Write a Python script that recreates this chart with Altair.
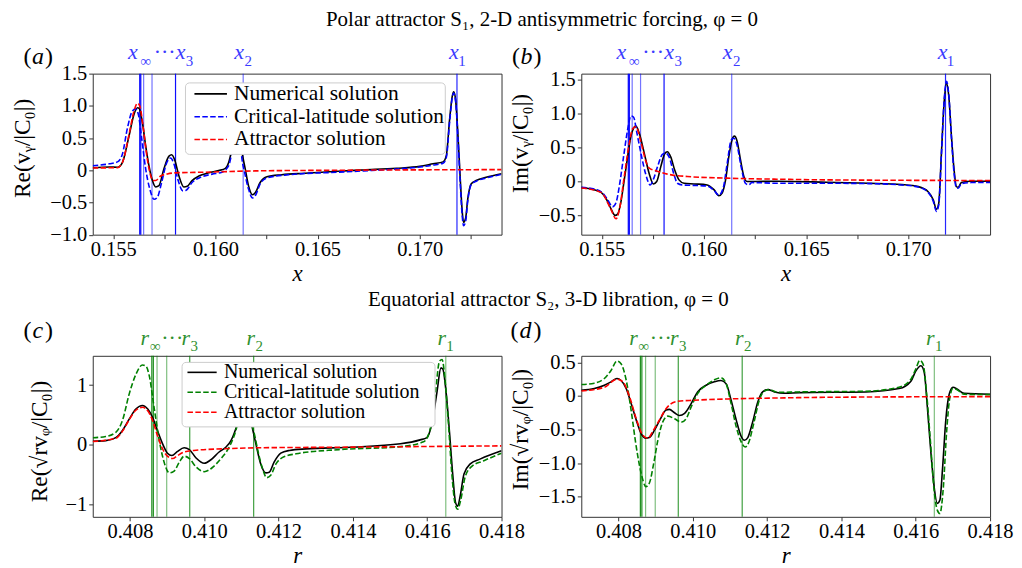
import altair as alt
import pandas as pd

FONT = "Liberation Serif"
SERIES = ["Numerical solution", "Critical-latitude solution", "Attractor solution"]

# ---------------- panel (a): Re(v_y/|C0|) versus x ----------------
A_NUM_X = [0.15400, 0.15481, 0.15521, 0.15545, 0.15578, 0.15602, 0.15619, 0.15627, 0.15643, 0.15659,
           0.15675, 0.15692, 0.15708, 0.15724, 0.15748, 0.15773, 0.15786, 0.15802, 0.15821, 0.15846,
           0.15862, 0.15886, 0.15919, 0.15968, 0.16016, 0.16049, 0.16065, 0.16081, 0.16094, 0.16107,
           0.16120, 0.16133, 0.16146, 0.16162, 0.16182, 0.16195, 0.16219, 0.16252, 0.16325, 0.16438,
           0.16601, 0.16724, 0.16886, 0.17000, 0.17065, 0.17114, 0.17130, 0.17146, 0.17159, 0.17166,
           0.17175, 0.17187, 0.17198, 0.17208, 0.17214, 0.17224, 0.17235, 0.17252, 0.17276, 0.17325,
           0.17400]
A_NUM_Y = [0.04, 0.05, 0.046, 0.12, 0.54, 0.87, 0.97, 0.96, 0.74, 0.38,
           0.07, -0.16, -0.26, -0.24, 0.02, 0.22, 0.24, 0.15, -0.08, -0.26,
           -0.25, -0.16, -0.09, -0.04, -0.005, 0.03, 0.12, 0.33, 0.55, 0.62,
           0.50, 0.23, 0.02, -0.24, -0.38, -0.35, -0.19, -0.10, -0.07, -0.046,
           -0.015, 0.005, 0.03, 0.06, 0.10, 0.13, 0.23, 0.79, 1.15, 1.22,
           1.10, 0.54, -0.13, -0.65, -0.81, -0.75, -0.44, -0.21, -0.16, -0.11,
           -0.055]
A_CRIT_X = [0.15400, 0.15481, 0.15521, 0.15545, 0.15570, 0.15594, 0.15610, 0.15623, 0.15640, 0.15659,
            0.15679, 0.15700, 0.15716, 0.15737, 0.15760, 0.15781, 0.15797, 0.15818, 0.15841, 0.15857,
            0.15886, 0.15927, 0.15984, 0.16032, 0.16065, 0.16081, 0.16098, 0.16110, 0.16122, 0.16130,
            0.16143, 0.16162, 0.16182, 0.16198, 0.16219, 0.16252, 0.16357, 0.16601, 0.16724, 0.16886,
            0.17000, 0.17065, 0.17114, 0.17130, 0.17146, 0.17159, 0.17166, 0.17175, 0.17187, 0.17198,
            0.17208, 0.17214, 0.17224, 0.17235, 0.17252, 0.17276, 0.17325, 0.17400]
A_CRIT_Y = [0.07, 0.10, 0.13, 0.25, 0.66, 0.92, 0.95, 0.87, 0.48, 0.02,
            -0.29, -0.45, -0.42, -0.19, 0.10, 0.19, 0.10, -0.16, -0.32, -0.31,
            -0.19, -0.11, -0.06, -0.03, 0.07, 0.28, 0.52, 0.58, 0.45, 0.18,
            -0.03, -0.29, -0.43, -0.38, -0.21, -0.12, -0.07, -0.03, -0.01, 0.02,
            0.05, 0.08, 0.11, 0.20, 0.75, 1.13, 1.20, 1.08, 0.50, -0.20,
            -0.72, -0.86, -0.80, -0.47, -0.22, -0.17, -0.12, -0.065]
A_ATTR_X = [0.15400, 0.15521, 0.15545, 0.15578, 0.15602, 0.15619, 0.15630, 0.15646, 0.15662, 0.15679,
            0.15695, 0.15708, 0.15732, 0.15765, 0.15805, 0.15951, 0.16195, 0.16601, 0.17400]
A_ATTR_Y = [0.036, 0.04, 0.12, 0.56, 0.92, 1.04, 1.00, 0.69, 0.28, -0.03,
            -0.16, -0.16, -0.09, -0.057, -0.04, -0.03, -0.01, 0.0, 0.01]

# ---------------- panel (b): Im(v_y/|C0|) versus x ----------------
B_NUM_X = [0.15400, 0.15448, 0.15497, 0.15521, 0.15545, 0.15565, 0.15578, 0.15594, 0.15610, 0.15627,
           0.15643, 0.15656, 0.15667, 0.15683, 0.15708, 0.15732, 0.15753, 0.15769, 0.15789, 0.15808,
           0.15821, 0.15838, 0.15857, 0.15878, 0.15903, 0.15951, 0.16016, 0.16049, 0.16073, 0.16089,
           0.16106, 0.16122, 0.16138, 0.16149, 0.16162, 0.16179, 0.16195, 0.16211, 0.16227, 0.16357,
           0.16601, 0.16805, 0.16968, 0.17049, 0.17097, 0.17122, 0.17138, 0.17149, 0.17162, 0.17175,
           0.17187, 0.17198, 0.17211, 0.17224, 0.17235, 0.17244, 0.17260, 0.17308, 0.17400]
B_NUM_Y = [-0.09, -0.11, -0.16, -0.25, -0.40, -0.50, -0.48, -0.30, 0.02, 0.37,
           0.67, 0.79, 0.82, 0.72, 0.42, 0.12, -0.035, 0.0, 0.22, 0.41,
           0.44, 0.36, 0.17, 0.025, -0.025, -0.035, -0.05, -0.12, -0.21, -0.17,
           0.025, 0.37, 0.62, 0.67, 0.60, 0.32, 0.08, 0.0, 0.0, 0.005,
           -0.01, -0.025, -0.045, -0.075, -0.15, -0.27, -0.41, -0.32, 0.42, 1.16,
           1.45, 1.26, 0.67, 0.17, -0.075, -0.085, -0.015, 0.005, 0.005]
B_CRIT_X = [0.15400, 0.15464, 0.15505, 0.15529, 0.15554, 0.15570, 0.15586, 0.15607, 0.15627, 0.15643,
            0.15656, 0.15672, 0.15695, 0.15716, 0.15737, 0.15753, 0.15773, 0.15797, 0.15813, 0.15830,
            0.15854, 0.15870, 0.15894, 0.15935, 0.16016, 0.16049, 0.16073, 0.16094, 0.16114, 0.16133,
            0.16146, 0.16162, 0.16182, 0.16203, 0.16219, 0.16235, 0.16357, 0.16601, 0.16805, 0.16968,
            0.17049, 0.17097, 0.17122, 0.17138, 0.17149, 0.17162, 0.17175, 0.17187, 0.17198, 0.17211,
            0.17224, 0.17235, 0.17244, 0.17260, 0.17308, 0.17400]
B_CRIT_Y = [-0.085, -0.11, -0.17, -0.27, -0.37, -0.31, -0.07, 0.37, 0.77, 0.97,
            0.95, 0.72, 0.37, 0.10, -0.05, 0.035, 0.22, 0.40, 0.42, 0.36,
            0.10, -0.025, -0.05, -0.055, -0.065, -0.13, -0.20, -0.10, 0.27, 0.61,
            0.64, 0.54, 0.22, -0.025, -0.05, -0.015, -0.025, -0.025, -0.03, -0.05,
            -0.08, -0.16, -0.29, -0.44, -0.34, 0.40, 1.18, 1.48, 1.28, 0.65,
            0.12, -0.09, -0.10, -0.03, -0.015, -0.015]
B_ATTR_X = [0.15400, 0.15497, 0.15545, 0.15570, 0.15586, 0.15610, 0.15635, 0.15651, 0.15667, 0.15692,
            0.15716, 0.15732, 0.15765, 0.15821, 0.15919, 0.16114, 0.16357, 0.16601, 0.17400]
B_ATTR_Y = [-0.095, -0.16, -0.41, -0.55, -0.42, 0.07, 0.57, 0.78, 0.81, 0.58,
            0.30, 0.20, 0.16, 0.11, 0.075, 0.05, 0.035, 0.025, 0.015]

# ---------------- panel (c): Re(sqrt(r) v_phi/|C0|) versus r ----------------
C_NUM_X = [0.40700, 0.40735, 0.40762, 0.40780, 0.40798, 0.40816, 0.40834, 0.40848, 0.40861, 0.40874,
           0.40888, 0.40901, 0.40913, 0.40928, 0.40946, 0.40960, 0.40978, 0.41000, 0.41018, 0.41040,
           0.41058, 0.41072, 0.41085, 0.41098, 0.41108, 0.41120, 0.41130, 0.41139, 0.41152, 0.41166,
           0.41175, 0.41188, 0.41206, 0.41229, 0.41274, 0.41393, 0.41528, 0.41581, 0.41599, 0.41613,
           0.41626, 0.41637, 0.41642, 0.41651, 0.41660, 0.41669, 0.41676, 0.41682, 0.41689, 0.41699,
           0.41716, 0.41742, 0.41800]
C_NUM_Y = [0.06, 0.07, 0.12, 0.24, 0.43, 0.60, 0.66, 0.60, 0.46, 0.24,
           0.017, -0.14, -0.18, -0.11, -0.05, -0.08, -0.22, -0.31, -0.25, -0.12,
           -0.04, 0.07, 0.27, 0.55, 0.68, 0.55, 0.27, 0.017, -0.32, -0.47,
           -0.46, -0.29, -0.14, -0.094, -0.067, -0.04, 0.017, 0.083, 0.12, 0.37,
           0.87, 1.29, 1.27, 0.87, 0.21, -0.52, -0.96, -1.03, -0.85, -0.49,
           -0.32, -0.24, -0.10]
C_CRIT_X = [0.40700, 0.40735, 0.40762, 0.40780, 0.40798, 0.40816, 0.40834, 0.40843, 0.40852, 0.40865,
            0.40879, 0.40892, 0.40906, 0.40919, 0.40933, 0.40946, 0.40960, 0.40978, 0.41000, 0.41022,
            0.41045, 0.41067, 0.41081, 0.41095, 0.41108, 0.41122, 0.41135, 0.41144, 0.41157, 0.41168,
            0.41179, 0.41193, 0.41211, 0.41247, 0.41363, 0.41528, 0.41590, 0.41608, 0.41622, 0.41633,
            0.41640, 0.41648, 0.41657, 0.41666, 0.41675, 0.41682, 0.41690, 0.41702, 0.41720, 0.41751,
            0.41800]
C_CRIT_Y = [0.12, 0.14, 0.21, 0.41, 0.85, 1.18, 1.34, 1.32, 1.16, 0.63,
            0.07, -0.29, -0.47, -0.44, -0.29, -0.19, -0.23, -0.37, -0.45, -0.38,
            -0.23, -0.04, 0.16, 0.45, 0.58, 0.45, 0.18, -0.09, -0.40, -0.55,
            -0.51, -0.32, -0.21, -0.15, -0.08, -0.03, 0.05, 0.26, 0.87, 1.40,
            1.43, 1.09, 0.37, -0.46, -0.99, -1.08, -0.93, -0.54, -0.36, -0.27,
            -0.14]
C_ATTR_X = [0.40700, 0.40762, 0.40780, 0.40798, 0.40816, 0.40834, 0.40848, 0.40861, 0.40874, 0.40888,
            0.40901, 0.40915, 0.40928, 0.40946, 0.40978, 0.41049, 0.41139, 0.41363, 0.41800]
C_ATTR_Y = [0.055, 0.11, 0.23, 0.42, 0.58, 0.63, 0.57, 0.41, 0.16, -0.07,
            -0.19, -0.23, -0.18, -0.12, -0.09, -0.067, -0.05, -0.04, -0.017]

# ---------------- panel (d): Im(sqrt(r) v_phi/|C0|) versus r ----------------
D_NUM_X = [0.40700, 0.40735, 0.40762, 0.40780, 0.40796, 0.40807, 0.40821, 0.40834, 0.40848, 0.40861,
           0.40874, 0.40883, 0.40897, 0.40913, 0.40928, 0.40937, 0.40951, 0.40964, 0.40978, 0.40996,
           0.41013, 0.41036, 0.41058, 0.41076, 0.41090, 0.41103, 0.41117, 0.41130, 0.41139, 0.41148,
           0.41161, 0.41175, 0.41188, 0.41202, 0.41220, 0.41247, 0.41287, 0.41466, 0.41555, 0.41587,
           0.41600, 0.41614, 0.41623, 0.41631, 0.41640, 0.41649, 0.41658, 0.41665, 0.41672, 0.41681,
           0.41690, 0.41700, 0.41712, 0.41730, 0.41800]
D_NUM_Y = [0.084, 0.11, 0.16, 0.21, 0.26, 0.23, 0.11, -0.11, -0.36, -0.56,
           -0.63, -0.62, -0.51, -0.34, -0.21, -0.20, -0.25, -0.29, -0.26, -0.11,
           0.06, 0.16, 0.21, 0.23, 0.18, -0.06, -0.36, -0.60, -0.66, -0.62,
           -0.39, -0.09, 0.06, 0.094, 0.06, 0.04, 0.05, 0.06, 0.11, 0.22,
           0.37, 0.45, 0.35, -0.15, -0.79, -1.33, -1.60, -1.55, -1.09, -0.35,
           0.025, 0.13, 0.10, 0.04, 0.025]
D_CRIT_X = [0.40700, 0.40735, 0.40762, 0.40780, 0.40796, 0.40807, 0.40821, 0.40834, 0.40848, 0.40861,
            0.40874, 0.40883, 0.40895, 0.40906, 0.40919, 0.40933, 0.40951, 0.40969, 0.40982, 0.40996,
            0.41013, 0.41036, 0.41058, 0.41076, 0.41090, 0.41103, 0.41117, 0.41130, 0.41141, 0.41150,
            0.41164, 0.41179, 0.41193, 0.41206, 0.41229, 0.41287, 0.41466, 0.41555, 0.41587, 0.41600,
            0.41611, 0.41620, 0.41629, 0.41639, 0.41649, 0.41658, 0.41665, 0.41674, 0.41683, 0.41691,
            0.41700, 0.41712, 0.41730, 0.41800]
D_CRIT_Y = [0.17, 0.19, 0.26, 0.38, 0.52, 0.48, 0.23, -0.21, -0.76, -1.15,
            -1.35, -1.30, -1.00, -0.66, -0.39, -0.30, -0.34, -0.39, -0.34, -0.16,
            0.035, 0.16, 0.24, 0.27, 0.18, -0.11, -0.46, -0.68, -0.76, -0.70,
            -0.41, -0.06, 0.074, 0.094, 0.054, 0.06, 0.07, 0.13, 0.25, 0.40,
            0.53, 0.47, 0.05, -0.64, -1.38, -1.70, -1.75, -1.38, -0.54, -0.05,
            0.11, 0.09, 0.025, 0.02]
D_ATTR_X = [0.40700, 0.40762, 0.40796, 0.40812, 0.40830, 0.40848, 0.40865, 0.40879, 0.40892, 0.40910,
            0.40928, 0.40946, 0.40960, 0.41004, 0.41094, 0.41229, 0.41363, 0.41800]
D_ATTR_Y = [0.074, 0.13, 0.25, 0.21, -0.015, -0.34, -0.58, -0.63, -0.53, -0.36,
            -0.19, -0.10, -0.08, -0.064, -0.045, -0.03, -0.02, -0.01]

# vertical marker lines (x_inf ... x_3, x_2, x_1) and (r_inf ... r_3, r_2, r_1)
AB_LINES = [0.15630, 0.15635, 0.15649, 0.15690, 0.15805, 0.16136, 0.17182]
CD_LINES = [0.40859, 0.40863, 0.40873, 0.40899, 0.40961, 0.41133, 0.41650]
AB_LINE_ALPHA = [1.0, 1.0, 0.55, 0.55, 0.95, 0.55, 0.85]
CD_LINE_ALPHA = [0.9, 0.9, 0.5, 0.5, 0.75, 0.75, 0.5]

AB_XTICKS = [0.155, 0.1575, 0.16, 0.1625, 0.165, 0.1675, 0.17, 0.1725]
CD_XTICKS = [0.408, 0.410, 0.412, 0.414, 0.416, 0.418]

ONE = pd.DataFrame({"k": [0]})
DASH = [5.5, 2.4]


def text_mark(text, x, y, size, color="black", style="normal", align="center",
              baseline="alphabetic", angle=None):
    kw = dict(text=text, font=FONT, fontSize=size, color=color, align=align,
              baseline=baseline, fontStyle=style)
    if angle is not None:
        kw["angle"] = angle
    return alt.Chart(ONE).mark_text(**kw).encode(x=alt.value(x), y=alt.value(y))


def build_panel(p):
    xsc = alt.Scale(domain=p["xdom"], nice=False, zero=False)
    ysc = alt.Scale(domain=p["ydom"], nice=False, zero=False)
    xax = alt.Axis(values=p["xticks"], labelExpr=p["xlabel"], title=p["xtitle"],
                   titlePadding=2, labelOverlap=False, labelFlush=False, labelPadding=1)
    yax = alt.Axis(values=p["yticks"], labelExpr=p["ylabel"], title=None,
                   labelOverlap=False, labelFlush=False, labelPadding=2)

    def X():
        return alt.X("x:Q", scale=xsc, axis=xax)

    def Y():
        return alt.Y("y:Q", scale=ysc, axis=yax)

    layers = []
    vl = pd.DataFrame({"x": p["vlines"], "op": p["valpha"]})
    layers.append(alt.Chart(vl).mark_rule(color=p["vcolor"], strokeWidth=1.2).encode(
        x=X(), opacity=alt.Opacity("op:Q", scale=None)))

    colors = ["black", p["crit_color"], "red"]
    for i, (xs, ys) in enumerate(p["curves"]):
        kw = dict(color=colors[i], strokeWidth=1.6, interpolate="monotone", clip=True)
        if i > 0:
            kw["strokeDash"] = DASH
        layers.append(alt.Chart(pd.DataFrame({"x": xs, "y": ys})).mark_line(**kw).encode(x=X(), y=Y()))

    if p.get("legend"):
        lg = p["legend"]
        layers.append(alt.Chart(ONE).mark_rect(fill="white", stroke="#cccccc", strokeWidth=1,
                                               cornerRadius=4).encode(
            x=alt.value(lg["box"][0]), x2=alt.value(lg["box"][1]),
            y=alt.value(lg["box"][2]), y2=alt.value(lg["box"][3])))
        for i, name in enumerate(SERIES):
            kw = dict(color=colors[i], strokeWidth=1.6)
            if i > 0:
                kw["strokeDash"] = DASH
            layers.append(alt.Chart(ONE).mark_rule(**kw).encode(
                x=alt.value(lg["sym"][0]), x2=alt.value(lg["sym"][1]), y=alt.value(lg["rows"][i])))
            layers.append(text_mark(name, lg["text_x"], lg["rows"][i], lg["size"], align="left",
                                    baseline="middle"))

    # labels above the vertical marker lines
    for anchor, txt, dx, kind in p["marks"]:
        if kind == "main":
            kw = dict(fontSize=22, fontStyle="italic")
            yy = p["mark_y"][0]
        elif kind == "dots":
            kw = dict(fontSize=22, fontStyle="normal")
            yy = p["mark_y"][0]
        else:
            kw = dict(fontSize=15, fontStyle="normal")
            yy = p["mark_y"][1]
        layers.append(alt.Chart(pd.DataFrame({"x": [anchor]})).mark_text(
            text=txt, dx=dx, font=FONT, color=p["label_color"], align="center",
            baseline="alphabetic", **kw).encode(x=X(), y=alt.value(yy)))

    # y-axis title
    tx, ty = p["ytitle_pos"]
    layers.append(text_mark(p["ytitle"], tx, ty, 23.5, angle=270, baseline="middle"))
    # panel letter
    lx, ly = p["letter_pos"]
    layers.append(text_mark("(", lx[0], ly, 24))
    layers.append(text_mark(p["letter"], lx[1], ly, 24, style="italic"))
    layers.append(text_mark(")", lx[2], ly, 24))
    for t in p.get("titles", []):
        layers.append(text_mark(t[0], t[1], t[2], 21))

    return alt.layer(*layers).properties(width=410, height=161.5)


AB_MARKS = [(AB_LINES[0], "x", -7, "main"), (AB_LINES[0], "∞", 6, "sub"),
            (AB_LINES[0], "···", 25, "dots"), (AB_LINES[0], "x", 41, "main"),
            (AB_LINES[0], "3", 50, "sub"),
            (AB_LINES[5], "x", -4, "main"), (AB_LINES[5], "2", 5, "sub"),
            (AB_LINES[6], "x", -3, "main"), (AB_LINES[6], "1", 5, "sub")]
CD_MARKS = [(CD_LINES[0], "r", -7, "main"), (CD_LINES[0], "∞", 3.5, "sub"),
            (CD_LINES[0], "···", 20.5, "dots"), (CD_LINES[0], "r", 34, "main"),
            (CD_LINES[0], "3", 42.5, "sub"),
            (CD_LINES[5], "r", -3, "main"), (CD_LINES[5], "2", 5.5, "sub"),
            (CD_LINES[6], "r", -4, "main"), (CD_LINES[6], "1", 4.3, "sub")]

XLAB_AB = "round(datum.value * 10000) % 50 == 0 ? format(datum.value, '.3f') : ''"
XLAB_CD = "format(datum.value, '.3f')"
YLAB_1 = "datum.value == 0 ? '0' : format(datum.value, '.1f')"
YLAB_0 = "datum.value == 0 ? '0' : format(datum.value, 'd')"

common_ab = dict(xdom=[0.154, 0.174], xticks=AB_XTICKS, xlabel=XLAB_AB, xtitle="x",
                 vlines=AB_LINES, valpha=AB_LINE_ALPHA, vcolor="blue", crit_color="blue",
                 marks=AB_MARKS, label_color="#3b3bff", mark_y=(-15, -7.5))
common_cd = dict(xdom=[0.407, 0.418], xticks=CD_XTICKS, xlabel=XLAB_CD, xtitle="r",
                 vlines=CD_LINES, valpha=CD_LINE_ALPHA, vcolor="green", crit_color="green",
                 marks=CD_MARKS, label_color="#2f912f", mark_y=(-11, -5))

pa = build_panel(dict(common_ab, ydom=[-1.0, 1.5], yticks=[-1, -0.5, 0, 0.5, 1, 1.5], ylabel=YLAB_1,
                      curves=[(A_NUM_X, A_NUM_Y), (A_CRIT_X, A_CRIT_Y), (A_ATTR_X, A_ATTR_Y)],
                      legend=dict(box=[93, 353.6, 9.3, 81], rows=[20.3, 43.3, 66],
                                  sym=[102, 134.6], text_x=141.6, size=21.5),
                      ytitle="Re(vᵧ/|C₀|)", ytitle_pos=(-70, 75),
                      letter="a", letter_pos=((-65.5, -55, -44), -10),
                      titles=[("Polar attractor S₁, 2-D antisymmetric forcing, φ = 0", 450.6, -47.3)]))
pb = build_panel(dict(common_ab, ydom=[-0.784, 1.593], yticks=[-0.5, 0, 0.5, 1, 1.5], ylabel=YLAB_1,
                      curves=[(B_NUM_X, B_NUM_Y), (B_CRIT_X, B_CRIT_Y), (B_ATTR_X, B_ATTR_Y)],
                      ytitle="Im(vᵧ/|C₀|)", ytitle_pos=(-60, 70),
                      letter="b", letter_pos=((-65.5, -55, -44), -10)))
pc = build_panel(dict(common_cd, ydom=[-1.207, 1.493], yticks=[-1, 0, 1], ylabel=YLAB_0,
                      curves=[(C_NUM_X, C_NUM_Y), (C_CRIT_X, C_CRIT_Y), (C_ATTR_X, C_ATTR_Y)],
                      legend=dict(box=[89.6, 343.3, 6.6, 71.3], rows=[16.6, 36.6, 56.6],
                                  sym=[95, 124.3], text_x=131.6, size=20),
                      ytitle="Re(√rvᵩ/|C₀|)", ytitle_pos=(-53, 86),
                      letter="c", letter_pos=((-65.5, -55, -44), -17.7),
                      titles=[("Equatorial attractor S₂, 3-D libration, φ = 0", 457, -50)]))
pd_ = build_panel(dict(common_cd, ydom=[-1.8, 0.598], yticks=[-1.5, -1, -0.5, 0, 0.5], ylabel=YLAB_1,
                       curves=[(D_NUM_X, D_NUM_Y), (D_CRIT_X, D_CRIT_Y), (D_ATTR_X, D_ATTR_Y)],
                       ytitle="Im(√rvᵩ/|C₀|)", ytitle_pos=(-60, 74),
                       letter="d", letter_pos=((-67, -56, -44), -17.7)))

chart = alt.concat(pa, pb, pc, pd_, columns=2, spacing={"row": 121, "column": 80}).properties(
    bounds="flush", padding={"left": 2, "top": 0, "right": 0, "bottom": 0}, background="white"
).resolve_scale(x="independent", y="independent").configure_view(
    stroke="#333333", strokeWidth=1
).configure_axis(
    labelFont=FONT, labelFontSize=20.5, labelColor="black", tickColor="#333333", tickSize=4,
    tickWidth=1, domain=False, grid=False, titleFont=FONT, titleFontSize=23,
    titleFontStyle="italic", titleFontWeight="normal", titleColor="black"
)

chart.save("out.html", embed_options={"renderer": "svg", "actions": False})
